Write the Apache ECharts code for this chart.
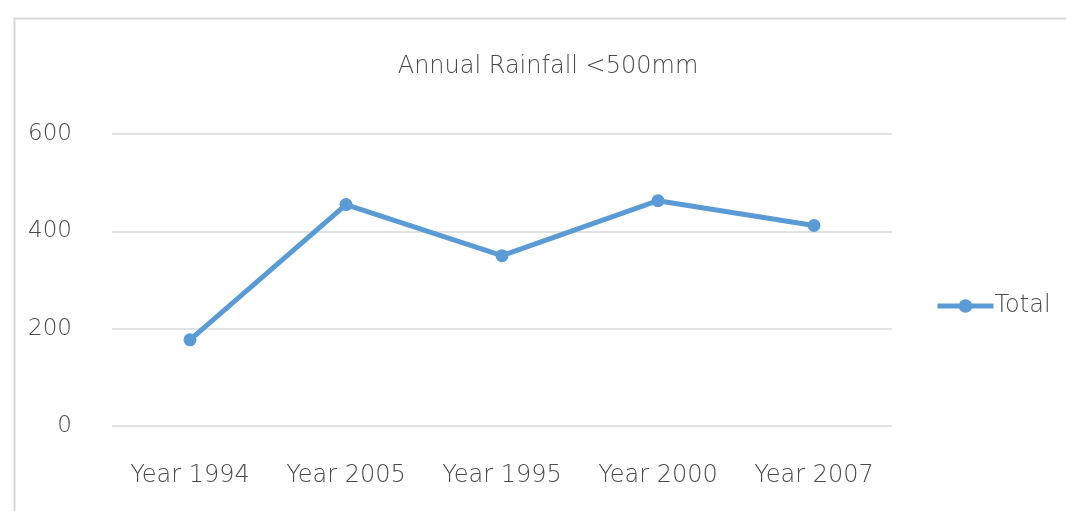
<!DOCTYPE html>
<html><head><meta charset="utf-8">
<script src="https://cdn.jsdelivr.net/npm/echarts@6/dist/echarts.min.js"></script>
<style>html,body{margin:0;padding:0;background:#fff}#c{width:1066px;height:511px}</style>
</head><body><div id="c"></div>
<script>
const categories = ["Year 1994", "Year 2005", "Year 1995", "Year 2000", "Year 2007"];
const totalValues = [177, 455, 350, 463, 412];
const yTicks = [0, 200, 400, 600];
const titleText = "Annual Rainfall <500mm";
const seriesName = "Total";

const font = "'DejaVu Sans', sans-serif";
const fw = 200;
const txt = "#4a4a4a";
const chart = echarts.init(document.getElementById('c'));
chart.setOption({
  animation: false,
  backgroundColor: '#fff',
  graphic: [{
    type: 'rect', left: 12, top: 16, z: -1,
    shape: { width: 1100, height: 600 },
    style: { fill: 'none', stroke: '#d9d9d9', lineWidth: 2 }
  }],
  title: {
    text: titleText, left: 543, top: 50, textAlign: 'center',
    textStyle: { fontFamily: font, fontWeight: fw, fontSize: 24, color: txt }
  },
  legend: {
    left: 930, top: 289, itemWidth: 56, itemHeight: 17, itemGap: 3,
    data: [seriesName],
    lineStyle: { width: 5 },
    textStyle: { fontFamily: font, fontWeight: fw, fontSize: 24, color: txt, padding: [0,0,0,-4] }
  },
  grid: { left: 112, right: 174, top: 134, bottom: 85 },
  xAxis: {
    type: 'category', data: categories, boundaryGap: true,
    axisLine: { show: false }, axisTick: { show: false },
    axisLabel: { fontFamily: font, fontWeight: fw, fontSize: 24, color: txt, margin: 38 }
  },
  yAxis: {
    type: 'value', min: yTicks[0], max: yTicks[yTicks.length-1], interval: 200,
    axisLine: { show: false }, axisTick: { show: false },
    axisLabel: { fontFamily: font, fontWeight: fw, fontSize: 23, color: txt, margin: 40 },
    splitLine: { lineStyle: { color: '#d9d9d9', width: 1.5 } }
  },
  series: [{
    name: seriesName, type: 'line', data: totalValues,
    symbol: 'circle', symbolSize: 13,
    lineStyle: { color: '#5B9BD5', width: 5 },
    itemStyle: { color: '#5B9BD5' }
  }]
});
</script></body></html>
